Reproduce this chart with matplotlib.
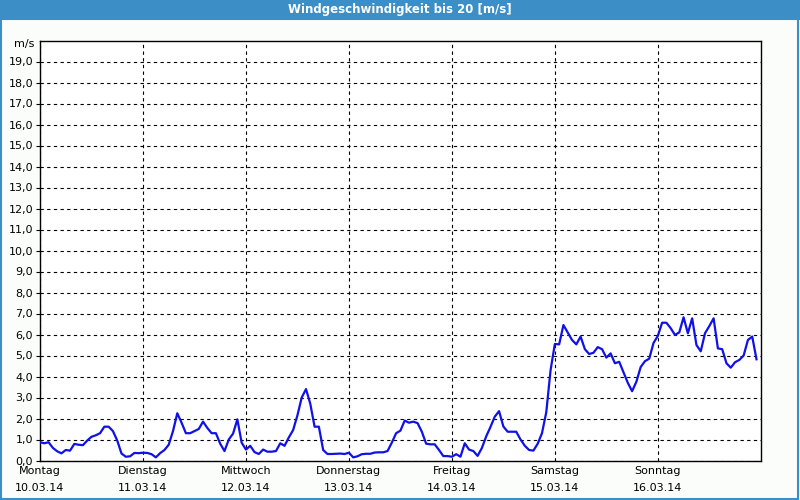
import matplotlib
matplotlib.use("Agg")
import matplotlib.pyplot as plt
from matplotlib.patches import Rectangle
import numpy as np

# hourly wind speed [m/s], Montag 10.03.14 00:00 onward
speed = [
    # Montag
    0.87, 0.82, 0.87, 0.60, 0.44, 0.34, 0.50, 0.47, 0.79, 0.75, 0.73, 0.95,
    1.13, 1.20, 1.30, 1.61, 1.61, 1.40, 0.95, 0.33, 0.18, 0.20, 0.36, 0.35,
    # Dienstag
    0.37, 0.36, 0.30, 0.15, 0.35, 0.50, 0.75, 1.40, 2.25, 1.80, 1.30, 1.30,
    1.40, 1.50, 1.85, 1.55, 1.30, 1.30, 0.80, 0.45, 1.00, 1.28, 1.96, 0.85,
    # Mittwoch
    0.52, 0.70, 0.40, 0.31, 0.52, 0.42, 0.42, 0.45, 0.82, 0.70, 1.10, 1.45,
    2.15, 3.00, 3.40, 2.70, 1.61, 1.61, 0.50, 0.31, 0.31, 0.32, 0.33, 0.31,
    # Donnerstag
    0.37, 0.15, 0.20, 0.30, 0.32, 0.32, 0.38, 0.39, 0.39, 0.45, 0.85, 1.30,
    1.42, 1.90, 1.80, 1.85, 1.78, 1.37, 0.80, 0.77, 0.77, 0.50, 0.21, 0.21,
    # Freitag
    0.18, 0.30, 0.18, 0.82, 0.52, 0.45, 0.22, 0.60, 1.15, 1.60, 2.09, 2.35,
    1.62, 1.37, 1.37, 1.37, 1.00, 0.70, 0.50, 0.47, 0.80, 1.30, 2.30, 4.30,
    # Samstag
    5.55, 5.53, 6.45, 6.10, 5.74, 5.53, 5.90, 5.30, 5.07, 5.13, 5.40, 5.30,
    4.90, 5.10, 4.63, 4.70, 4.20, 3.70, 3.30, 3.75, 4.45, 4.73, 4.85, 5.60,
    # Sonntag
    5.93, 6.56, 6.56, 6.30, 5.98, 6.10, 6.82, 6.06, 6.77, 5.50, 5.20, 6.06,
    6.40, 6.77, 5.34, 5.30, 4.63, 4.42, 4.68, 4.79, 5.00, 5.74, 5.90, 4.82,
]
day_names = ["Montag", "Dienstag", "Mittwoch", "Donnerstag",
             "Freitag", "Samstag", "Sonntag"]
day_dates = ["10.03.14", "11.03.14", "12.03.14", "13.03.14",
             "14.03.14", "15.03.14", "16.03.14"]
y_ticks = list(range(0, 20))

BLUE = "#3c8fc6"
hours = np.arange(len(speed))

fig = plt.figure(figsize=(8, 5), dpi=100, facecolor="#fbfdfb")

# title bar and window frame
fig.patches.append(Rectangle((0, 0.96), 1, 0.04, transform=fig.transFigure,
                             facecolor=BLUE, edgecolor="none", zorder=0))
fig.patches.append(Rectangle((0.001, 0.002), 0.997, 0.96,
                             transform=fig.transFigure, facecolor="none",
                             edgecolor=BLUE, linewidth=1.5, zorder=0))
fig.text(0.5, 0.98, "Windgeschwindigkeit bis 20 [m/s]", color="white",
         ha="center", va="center", fontsize=8.5, fontweight="bold")

ax = fig.add_axes([0.05, 0.079, 0.901, 0.840])
ax.set_facecolor("white")
ax.plot(hours, speed, color="#1010e8", linewidth=1.6, zorder=3)

ax.set_xlim(0, 168)
ax.set_ylim(0, 20)
ax.set_yticks(y_ticks)
ax.set_yticklabels([f"{v},0" for v in y_ticks], fontsize=8)
ax.set_xticks([24 * i for i in range(7)])
ax.set_xticklabels([f"{n}\n{d}" for n, d in zip(day_names, day_dates)],
                   fontsize=8, linespacing=1.9)
ax.tick_params(axis="y", length=3, width=0.8, pad=2)
ax.tick_params(axis="x", length=0, pad=4)

ax.grid(True, color="black", linestyle=(0, (3, 3)), linewidth=0.8)
for s in ax.spines.values():
    s.set_linewidth(1.0)
    s.set_color("black")

ax.text(-0.008, 1.0 - 0.5 / 20 + 0.005, "m/s", transform=ax.transAxes,
        ha="right", va="bottom", fontsize=8)

fig.savefig("out.png", dpi=100, facecolor=fig.get_facecolor())
